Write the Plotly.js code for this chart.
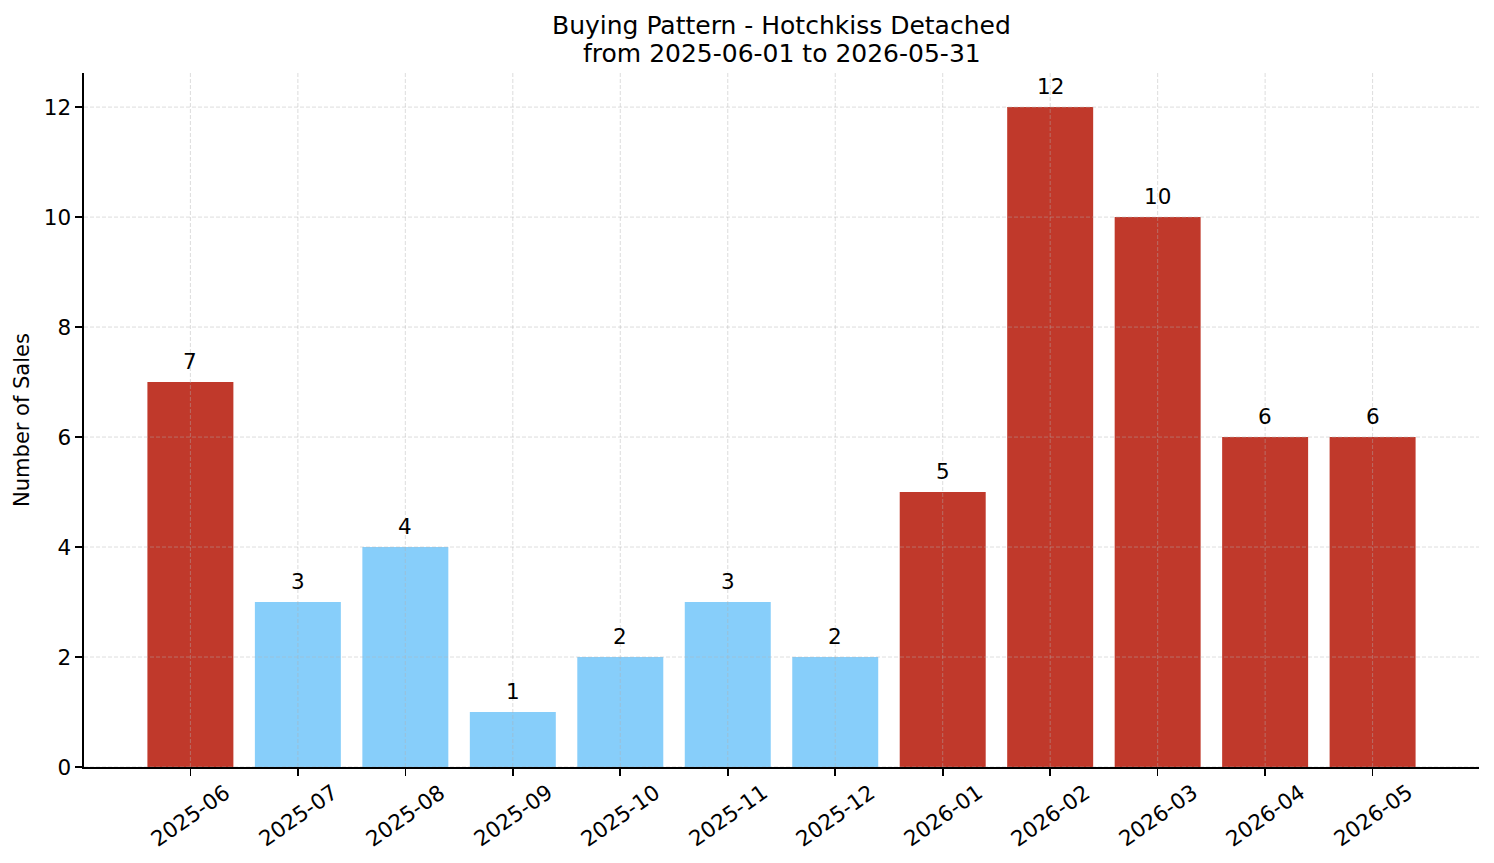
<!DOCTYPE html>
<html>
<head>
<meta charset="utf-8">
<script src="https://cdn.plot.ly/plotly-3.0.1.min.js"></script>
<style>html,body{margin:0;padding:0;background:#fff;}#chart{width:1494px;height:863px;}</style>
</head>
<body>
<div id="chart"></div>
<script>
const months = ["2025-06","2025-07","2025-08","2025-09","2025-10","2025-11","2025-12","2026-01","2026-02","2026-03","2026-04","2026-05"];
const sales = [7,3,4,1,2,3,2,5,12,10,6,6];
const yTicks = [0,2,4,6,8,10,12];
const titleLines = ["Buying Pattern - Hotchkiss Detached","from 2025-06-01 to 2026-05-31"];
const yLabel = "Number of Sales";

const HIGH = "#c0392b", LOW = "#87cefa";
const sorted = sales.slice().sort((a,b)=>a-b);
const median = (sorted[5]+sorted[6])/2;
const colors = sales.map(v => v > median ? HIGH : LOW);
const xIdx = months.map((m,i)=>i);

const FONT = "DejaVu Sans, sans-serif";
const TS = 21.5;
const gridColor = "rgba(176,176,176,0.55)";

const shapes = [];
yTicks.forEach(v => shapes.push({type:"line", layer:"above", xref:"paper", yref:"y", x0:0, x1:1, y0:v, y1:v, line:{color:gridColor, width:0.8, dash:"4px,2px"}}));
xIdx.forEach(i => shapes.push({type:"line", layer:"above", xref:"x", yref:"paper", x0:i, x1:i, y0:0, y1:1, line:{color:gridColor, width:0.8, dash:"4px,2px"}}));

const annotations = [];
// rotated month labels centred under each tick
months.forEach((m,i)=>annotations.push({
  text:m, xref:"x", yref:"paper", x:i, y:0, yshift:-48, showarrow:false,
  textangle:-35, xanchor:"center", yanchor:"middle",
  font:{family:FONT, size:TS, color:"#000"}
}));
// value labels above bars
sales.forEach((v,i)=>annotations.push({
  text:String(v), xref:"x", yref:"y", x:i, y:v, yshift:6, showarrow:false,
  xanchor:"center", yanchor:"bottom",
  font:{family:FONT, size:TS, color:"#000"}
}));
// two-line title centred over the axes
titleLines.forEach((t,k)=>annotations.push({
  text:t, xref:"paper", yref:"paper", x:0.5, y:1, yshift:[48,20][k], showarrow:false,
  xanchor:"center", yanchor:"middle",
  font:{family:FONT, size:25, color:"#000"}
}));

const trace = {
  type:"bar", x:xIdx, y:sales, width:0.8,
  marker:{color:colors, line:{width:0}},
  hoverinfo:"x+y"
};

const layout = {
  width:1494, height:863,
  paper_bgcolor:"#fff", plot_bgcolor:"#fff",
  margin:{l:84, r:15, t:73, b:96},
  font:{family:FONT, color:"#000"},
  showlegend:false,
  xaxis:{
    range:[-0.99, 11.99], tickmode:"array", tickvals:xIdx, ticktext:months,
    showticklabels:false, ticks:"outside", ticklen:7, tickwidth:1.6, tickcolor:"#000",
    showline:true, linecolor:"#000", linewidth:1.6, showgrid:false, zeroline:false
  },
  yaxis:{
    range:[0, 12.62], tickmode:"array", tickvals:yTicks, ticktext:yTicks.map(String),
    ticks:"outside", ticklen:7, tickwidth:1.6, tickcolor:"#000",
    tickfont:{family:FONT, size:TS, color:"#000"},
    showline:true, linecolor:"#000", linewidth:1.6, showgrid:false, zeroline:false,
    title:{text:yLabel, font:{family:FONT, size:21, color:"#000"}, standoff:8}
  },
  shapes:shapes,
  annotations:annotations
};

Plotly.newPlot("chart", [trace], layout, {displayModeBar:false, staticPlot:true});
</script>
</body>
</html>
